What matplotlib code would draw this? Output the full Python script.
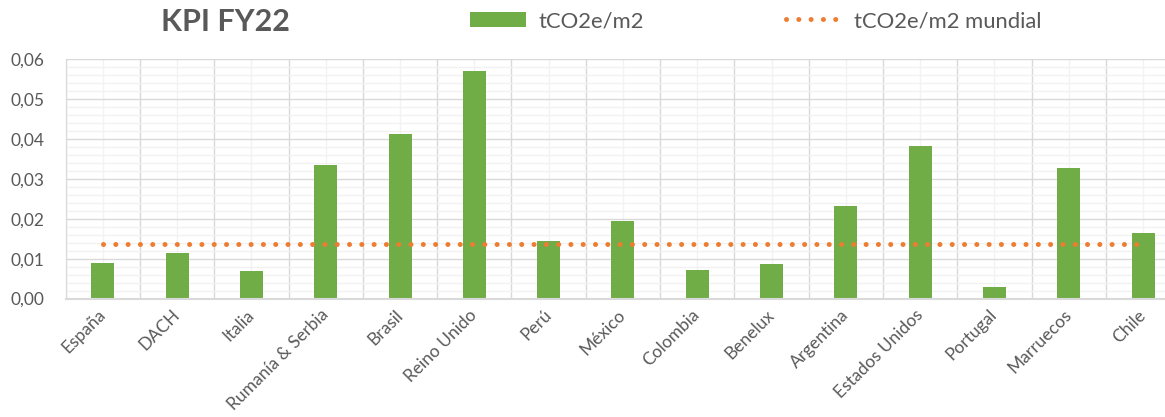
import matplotlib
matplotlib.use("Agg")
import matplotlib.pyplot as plt
import numpy as np
from matplotlib.lines import Line2D
from matplotlib.patches import Patch
from matplotlib.ticker import FixedLocator, FuncFormatter, MultipleLocator

# tCO2e per m2 by region, FY22
regions = [
    "España", "DACH", "Italia", "Rumanía & Serbia", "Brasil", "Reino Unido",
    "Perú", "México", "Colombia", "Benelux", "Argentina", "Estados Unidos",
    "Portugal", "Marruecos", "Chile",
]
intensity = [
    0.0088, 0.0113, 0.0069, 0.0334, 0.0413, 0.0571,
    0.0143, 0.0195, 0.0071, 0.0087, 0.0233, 0.0383,
    0.0028, 0.0327, 0.0164,
]
world_intensity = 0.0136

title = "KPI FY22"
bar_label = "tCO2e/m2"
line_label = "tCO2e/m2 mundial"

GREEN = "#70AD47"
ORANGE = "#ED7D31"
TEXT = "#595959"
GRID_MAJOR = "#D9D9D9"
GRID_MINOR = "#F2F2F2"

plt.rcParams["font.family"] = ["Lato", "DejaVu Sans"]

W, H = 1165, 417
fig = plt.figure(figsize=(W / 100, H / 100), dpi=100)

# plot area runs a little past the right edge of the canvas
left, right = 65.7, 65.7 + 15 * 74.3
top, bottom = 59.3, 298.5
ax = fig.add_axes([left / W, 1 - bottom / H, (right - left) / W, (bottom - top) / H])

x = np.arange(len(regions))
ax.bar(x, intensity, width=0.31, color=GREEN, zorder=2)
ax.plot(x, [world_intensity] * len(regions), color=ORANGE, linewidth=3.6,
        linestyle=(0, (0.01, 2.45)), dash_capstyle="round", zorder=3)

ax.set_xlim(-0.5, len(regions) - 0.5)
ax.set_ylim(0, 0.06)

ax.set_xticks(x)
ax.set_xticklabels(regions, rotation=45, ha="right", va="center",
                   rotation_mode="anchor", color=TEXT, fontsize=12.5)
ax.xaxis.set_minor_locator(FixedLocator(np.arange(-0.5, len(regions), 1.0)))
ax.yaxis.set_major_locator(MultipleLocator(0.01))
ax.yaxis.set_minor_locator(MultipleLocator(0.002))
ax.yaxis.set_major_formatter(FuncFormatter(lambda v, _: f"{v:.2f}".replace(".", ",")))
ax.tick_params(axis="y", which="both", length=0, pad=15, labelsize=12.5, labelcolor=TEXT)
ax.tick_params(axis="x", which="both", length=0, pad=10)

ax.set_axisbelow(True)
ax.grid(axis="y", which="major", color=GRID_MAJOR, linewidth=1.0)
ax.grid(axis="y", which="minor", color=GRID_MINOR, linewidth=1.0)
ax.grid(axis="x", which="minor", color=GRID_MAJOR, linewidth=1.0)
ax.grid(axis="x", which="major", color=GRID_MINOR, linewidth=1.0)

for side in ("top", "right"):
    ax.spines[side].set_visible(False)
ax.spines["left"].set_color(GRID_MAJOR)
ax.spines["bottom"].set_color(GRID_MAJOR)
ax.spines["bottom"].set_linewidth(1.5)

fig.text(225 / W, 1 - 22 / H, title, ha="center", va="center",
         fontsize=22, fontweight="bold", color=TEXT)

handles = [
    Patch(facecolor=GREEN, edgecolor="none"),
    Line2D([], [], color=ORANGE, linewidth=3.6, linestyle=(0, (0.01, 2.45)),
           dash_capstyle="round"),
]
fig.legend(handles, [bar_label, line_label], loc="center left",
           bbox_to_anchor=(470 / W, 1 - 21 / H), ncols=2, frameon=False,
           fontsize=15.8, labelcolor=TEXT, handlelength=2.55, handletextpad=0.55,
           columnspacing=6.5, borderaxespad=0, borderpad=0)

fig.savefig("out.png", dpi=100)
